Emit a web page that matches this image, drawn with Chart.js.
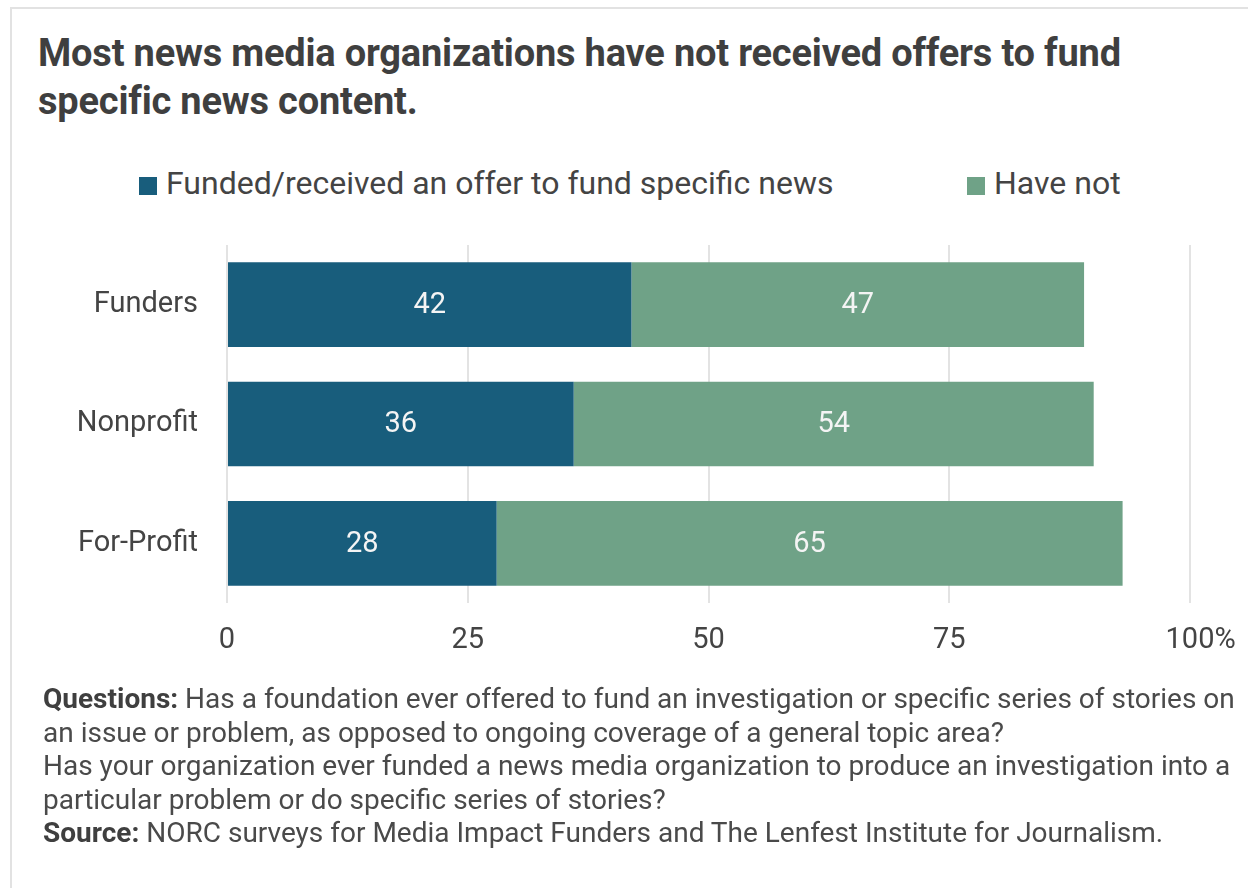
<!DOCTYPE html>
<html>
<head>
<meta charset="utf-8">
<script src="https://cdn.jsdelivr.net/npm/chart.js@4/dist/chart.umd.min.js"></script>
<style>
  body { margin: 0; background: #fff; font-family: Roboto, sans-serif; }
  #frame { position: absolute; left: 10px; top: 7px; width: 1260px; height: 900px;
           border-left: 2px solid #e2e2e2; border-top: 2px solid #e2e2e2; }
  #title { position: absolute; left: 38px; top: 29px; font-size: 38px; font-weight: 700;
           line-height: 48px; color: #3f3f3f; letter-spacing: -0.2px; white-space: nowrap; }
  #legend { position: absolute; top: 164px; left: 0; width: 1248px; height: 38px;
            font-size: 32px; color: #444; }
  .item { position: absolute; top: 0; line-height: 38px; white-space: nowrap; }
  .sw { display: inline-block; width: 18px; height: 18px; margin-right: 9px; vertical-align: -1px; }
  #notes { position: absolute; left: 43px; top: 682px; font-size: 28px; line-height: 33.5px;
           color: #4a4a4a; white-space: nowrap; }
  #notes b { color: #3f3f3f; }
  #wrap { position: absolute; left: 0; top: 0; width: 1248px; height: 888px; }
</style>
</head>
<body>
<div id="frame"></div>
<div id="title">Most news media organizations have not received offers to fund<br>specific news content.</div>
<div id="legend"></div>
<div id="wrap"><canvas id="barChart"></canvas></div>
<div id="notes">
  <b>Questions:</b> Has a foundation ever offered to fund an investigation or specific series of stories on<br>
  an issue or problem, as opposed to ongoing coverage of a general topic area?<br>
  Has your organization ever funded a news media organization to produce an investigation into a<br>
  particular problem or do specific series of stories?<br>
  <b>Source:</b> NORC surveys for Media Impact Funders and The Lenfest Institute for Journalism.
</div>
<script>
const groups = ["Funders", "Nonprofit", "For-Profit"];
const funded = [42, 36, 28];
const haveNot = [47, 54, 65];
const seriesNames = ["Funded/received an offer to fund specific news", "Have not"];
const seriesColors = ["#185d7c", "#6fa287"];
const xTicks = [0, 25, 50, 75, 100];

// legend, built by hand so the two entries sit where they should
const legendX = [139, 967];
const legendEl = document.getElementById('legend');
seriesNames.forEach((name, i) => {
    const item = document.createElement('div');
    item.className = 'item';
    item.style.left = legendX[i] + 'px';
    item.innerHTML = '<span class="sw" style="background:' + seriesColors[i] + '"></span>' + name;
    legendEl.appendChild(item);
});

const tickFont = '29px Roboto';

// white numbers in the middle of every segment
const barValues = {
    id: 'barValues',
    afterDatasetsDraw(chart) {
        const ctx = chart.ctx;
        ctx.save();
        ctx.font = '29px Roboto';
        ctx.fillStyle = '#f4f4f4';
        ctx.textAlign = 'center';
        ctx.textBaseline = 'middle';
        chart.data.datasets.forEach((ds, i) => {
            chart.getDatasetMeta(i).data.forEach((bar, j) => {
                const mid = (bar.x + bar.base) / 2;
                ctx.fillText(ds.data[j], mid, bar.y + 1);
            });
        });
        ctx.restore();
    }
};

// the % sign hangs off the last tick label, the number stays centred on its gridline
const percentSign = {
    id: 'percentSign',
    afterDraw(chart) {
        const ctx = chart.ctx;
        const x = chart.scales.x;
        const last = xTicks[xTicks.length - 1];
        ctx.save();
        ctx.font = tickFont;
        ctx.fillStyle = '#444';
        ctx.textBaseline = 'middle';
        ctx.textAlign = 'left';
        const w = ctx.measureText(String(last)).width;
        const yMid = x.top + 20 + 29 * 0.6;
        ctx.fillText('%', x.getPixelForValue(last) + w / 2, yMid);
        ctx.restore();
    }
};

const ctx = document.getElementById('barChart').getContext('2d');
const chart = new Chart(ctx, {
    type: 'bar',
    data: {
        labels: groups,
        datasets: [
            { label: seriesNames[0], data: funded, backgroundColor: seriesColors[0], borderWidth: 0 },
            { label: seriesNames[1], data: haveNot, backgroundColor: seriesColors[1], borderWidth: 0 }
        ]
    },
    options: {
        indexAxis: 'y',
        responsive: true,
        maintainAspectRatio: false,
        animation: false,
        layout: { padding: { top: 245, right: 58, bottom: 225, left: 0 } },
        plugins: {
            legend: { display: false },
            tooltip: { enabled: false }
        },
        scales: {
            x: {
                stacked: true,
                min: 0,
                max: 100,
                afterBuildTicks: axis => { axis.ticks = xTicks.map(v => ({ value: v })); },
                afterFit: axis => { axis.height = 60; },
                grid: { color: '#e3e3e3', lineWidth: 2, drawTicks: false },
                border: { display: false },
                ticks: {
                    padding: 20,
                    color: '#444',
                    font: { family: 'Roboto', size: 29 }
                }
            },
            y: {
                stacked: true,
                afterFit: axis => { axis.width = 227; },
                grid: { display: false },
                border: { display: false },
                ticks: {
                    padding: 21,
                    color: '#444',
                    font: { family: 'Roboto', size: 29 }
                }
            }
        },
        datasets: { bar: { categoryPercentage: 0.71, barPercentage: 1 } }
    },
    plugins: [barValues, percentSign]
});
</script>
</body>
</html>
